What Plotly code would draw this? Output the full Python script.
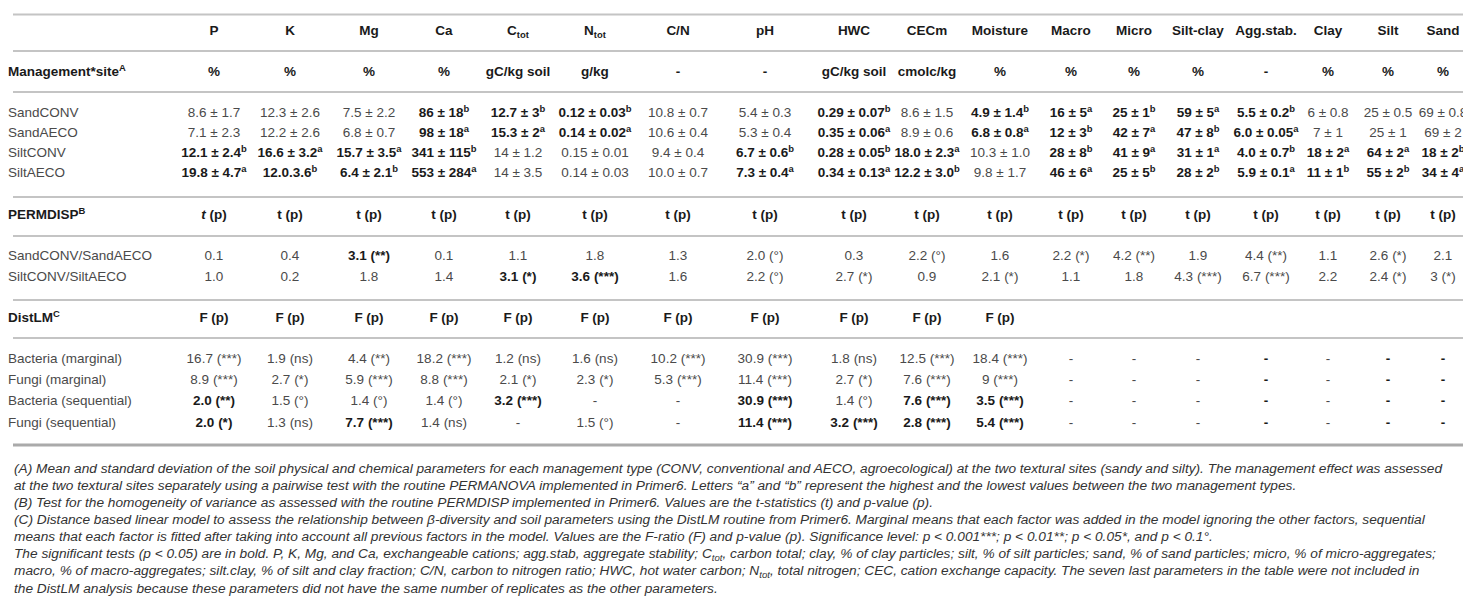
import re
import plotly.graph_objects as go

# table content
params = ["P", "K", "Mg", "Ca", "C<sub>tot</sub>", "N<sub>tot</sub>", "C/N", "pH", "HWC", "CECm",
          "Moisture", "Macro", "Micro", "Silt-clay", "Agg.stab.", "Clay", "Silt", "Sand"]
units = ["%", "%", "%", "%", "gC/kg soil", "g/kg", "-", "-", "gC/kg soil", "cmolc/kg",
         "%", "%", "%", "%", "-", "%", "%", "%"]

mgmt_labels = ["SandCONV", "SandAECO", "SiltCONV", "SiltAECO"]
sand_conv = ["8.6 ± 1.7", "12.3 ± 2.6", "7.5 ± 2.2", "**86 ± 18^b", "**12.7 ± 3^b", "**0.12 ± 0.03^b",
             "10.8 ± 0.7", "5.4 ± 0.3", "**0.29 ± 0.07^b", "8.6 ± 1.5", "**4.9 ± 1.4^b", "**16 ± 5^a",
             "**25 ± 1^b", "**59 ± 5^a", "**5.5 ± 0.2^b", "6 ± 0.8", "25 ± 0.5", "69 ± 0.8"]
sand_aeco = ["7.1 ± 2.3", "12.2 ± 2.6", "6.8 ± 0.7", "**98 ± 18^a", "**15.3 ± 2^a", "**0.14 ± 0.02^a",
             "10.6 ± 0.4", "5.3 ± 0.4", "**0.35 ± 0.06^a", "8.9 ± 0.6", "**6.8 ± 0.8^a", "**12 ± 3^b",
             "**42 ± 7^a", "**47 ± 8^b", "**6.0 ± 0.05^a", "7 ± 1", "25 ± 1", "69 ± 2"]
silt_conv = ["**12.1 ± 2.4^b", "**16.6 ± 3.2^a", "**15.7 ± 3.5^a", "**341 ± 115^b", "14 ± 1.2", "0.15 ± 0.01",
             "9.4 ± 0.4", "**6.7 ± 0.6^b", "**0.28 ± 0.05^b", "**18.0 ± 2.3^a", "10.3 ± 1.0", "**28 ± 8^b",
             "**41 ± 9^a", "**31 ± 1^a", "**4.0 ± 0.7^b", "**18 ± 2^a", "**64 ± 2^a", "**18 ± 2^b"]
silt_aeco = ["**19.8 ± 4.7^a", "**12.0.3.6^b", "**6.4 ± 2.1^b", "**553 ± 284^a", "14 ± 3.5", "0.14 ± 0.03",
             "10.0 ± 0.7", "**7.3 ± 0.4^a", "**0.34 ± 0.13^a", "**12.2 ± 3.0^b", "9.8 ± 1.7", "**46 ± 6^a",
             "**25 ± 5^b", "**28 ± 2^b", "**5.9 ± 0.1^a", "**11 ± 1^b", "**55 ± 2^b", "**34 ± 4^a"]

permdisp_head = ["**<i>t</i> (p)"] + ["**t (p)"] * 17
permdisp_labels = ["SandCONV/SandAECO", "SiltCONV/SiltAECO"]
permdisp_sand = ["0.1", "0.4", "**3.1 (**)", "0.1", "1.1", "1.8", "1.3", "2.0 (°)", "0.3", "2.2 (°)",
                 "1.6", "2.2 (*)", "4.2 (**)", "1.9", "4.4 (**)", "1.1", "2.6 (*)", "2.1"]
permdisp_silt = ["1.0", "0.2", "1.8", "1.4", "**3.1 (*)", "**3.6 (***)", "1.6", "2.2 (°)", "2.7 (*)", "0.9",
                 "2.1 (*)", "1.1", "1.8", "4.3 (***)", "6.7 (***)", "2.2", "2.4 (*)", "3 (*)"]

distlm_head = ["**F (p)"] * 11 + [""] * 7
distlm_labels = ["Bacteria (marginal)", "Fungi (marginal)", "Bacteria (sequential)", "Fungi (sequential)"]
nd = ["-", "-", "-", "**-", "-", "**-", "**-"]
bact_marg = ["16.7 (***)", "1.9 (ns)", "4.4 (**)", "18.2 (***)", "1.2 (ns)", "1.6 (ns)", "10.2 (***)",
             "30.9 (***)", "1.8 (ns)", "12.5 (***)", "18.4 (***)"] + nd
fungi_marg = ["8.9 (***)", "2.7 (*)", "5.9 (***)", "8.8 (***)", "2.1 (*)", "2.3 (*)", "5.3 (***)",
              "11.4 (***)", "2.7 (*)", "7.6 (***)", "9 (***)"] + nd
bact_seq = ["**2.0 (**)", "1.5 (°)", "1.4 (°)", "1.4 (°)", "**3.2 (***)", "-", "-",
            "**30.9 (***)", "1.4 (°)", "**7.6 (***)", "**3.5 (***)"] + nd
fungi_seq = ["**2.0 (*)", "1.3 (ns)", "**7.7 (***)", "1.4 (ns)", "-", "1.5 (°)", "-",
             "**11.4 (***)", "**3.2 (***)", "**2.8 (***)", "**5.4 (***)"] + nd

footnotes = [
    "(A) Mean and standard deviation of the soil physical and chemical parameters for each management type (CONV, conventional and AECO, agroecological) at the two textural sites (sandy and silty). The management effect was assessed",
    "at the two textural sites separately using a pairwise test with the routine PERMANOVA implemented in Primer6. Letters “a” and “b” represent the highest and the lowest values between the two management types.",
    "(B) Test for the homogeneity of variance as assessed with the routine PERMDISP implemented in Primer6. Values are the t-statistics (t) and p-value (p).",
    "(C) Distance based linear model to assess the relationship between β-diversity and soil parameters using the DistLM routine from Primer6. Marginal means that each factor was added in the model ignoring the other factors, sequential",
    "means that each factor is fitted after taking into account all previous factors in the model. Values are the F-ratio (F) and p-value (p). Significance level: p < 0.001***; p < 0.01**; p < 0.05*, and p < 0.1°.",
    "The significant tests (p < 0.05) are in bold. P, K, Mg, and Ca, exchangeable cations; agg.stab, aggregate stability; C<sub>tot</sub>, carbon total; clay, % of clay particles; silt, % of silt particles; sand, % of sand particles; micro, % of micro-aggregates;",
    "macro, % of macro-aggregates; silt.clay, % of silt and clay fraction; C/N, carbon to nitrogen ratio; HWC, hot water carbon; N<sub>tot</sub>, total nitrogen; CEC, cation exchange capacity. The seven last parameters in the table were not included in",
    "the DistLM analysis because these parameters did not have the same number of replicates as the other parameters.",
]

# layout (pixel space)
W, H = 1471, 606
col_x = [206, 282, 361, 436, 510, 587, 670, 757, 846, 919, 992, 1063, 1126, 1190, 1258, 1320, 1380, 1435]
rule_y = [6.5, 43, 84, 189, 228, 292, 330]
FONT = "Liberation Sans, Arial, sans-serif"
REG, BOLD = "#4a4a4a", "#1a1a1a"


def fmt(cell):
    bold = cell.startswith("**")
    txt = re.sub(r"\^(\w)", r"<sup>\1</sup>", cell.lstrip("*")) if bold else cell
    return ("<b>%s</b>" % txt if bold else txt), (BOLD if bold else REG)


fig = go.Figure()


def add_row(cells, y, label=None, size=13.5):
    out = [fmt(c) for c in cells]
    fig.add_trace(go.Scatter(x=col_x, y=[y] * len(cells), mode="text", text=[o[0] for o in out],
                             textposition="middle center", cliponaxis=False, hoverinfo="skip",
                             textfont=dict(family=FONT, size=size, color=[o[1] for o in out])))
    if label is not None:
        t, c = fmt(label)
        fig.add_trace(go.Scatter(x=[0], y=[y], mode="text", text=[t], textposition="middle right",
                                 cliponaxis=False, hoverinfo="skip",
                                 textfont=dict(family=FONT, size=size, color=c)))


add_row(["**" + p for p in params], 24)
add_row(["**" + u for u in units], 65, "**Management*site^A")
for lab, row, y in zip(mgmt_labels, [sand_conv, sand_aeco, silt_conv, silt_aeco], [106, 126, 146, 166]):
    add_row(row, y, lab)
add_row(permdisp_head, 208, "**PERMDISP^B")
for lab, row, y in zip(permdisp_labels, [permdisp_sand, permdisp_silt], [249, 270]):
    add_row(row, y, lab)
add_row(distlm_head, 311, "**DistLM^C")
for lab, row, y in zip(distlm_labels, [bact_marg, fungi_marg, bact_seq, fungi_seq], [352, 373, 394, 416]):
    add_row(row, y, lab)

for y in rule_y:
    fig.add_shape(type="line", x0=5, x1=1458, y0=y, y1=y, xref="x", yref="y",
                  line=dict(color="#c4c4c4", width=2))
fig.add_shape(type="line", x0=5, x1=1458, y0=437, y1=437, xref="x", yref="y",
              line=dict(color="#aaaaaa", width=3))

for i, line in enumerate(footnotes):
    fig.add_annotation(x=4, y=460 + i * 17.2, xref="x", yref="y", text="<i>%s</i>" % line, showarrow=False,
                       xanchor="left", yanchor="middle", font=dict(family=FONT, size=13.7, color="#333333"))

fig.update_xaxes(range=[0, W], visible=False, fixedrange=True)
fig.update_yaxes(range=[H, 0], visible=False, fixedrange=True)
fig.update_layout(width=W, height=H, margin=dict(l=0, r=0, t=0, b=0), showlegend=False,
                  plot_bgcolor="white", paper_bgcolor="white")
fig.write_html("out.html")
